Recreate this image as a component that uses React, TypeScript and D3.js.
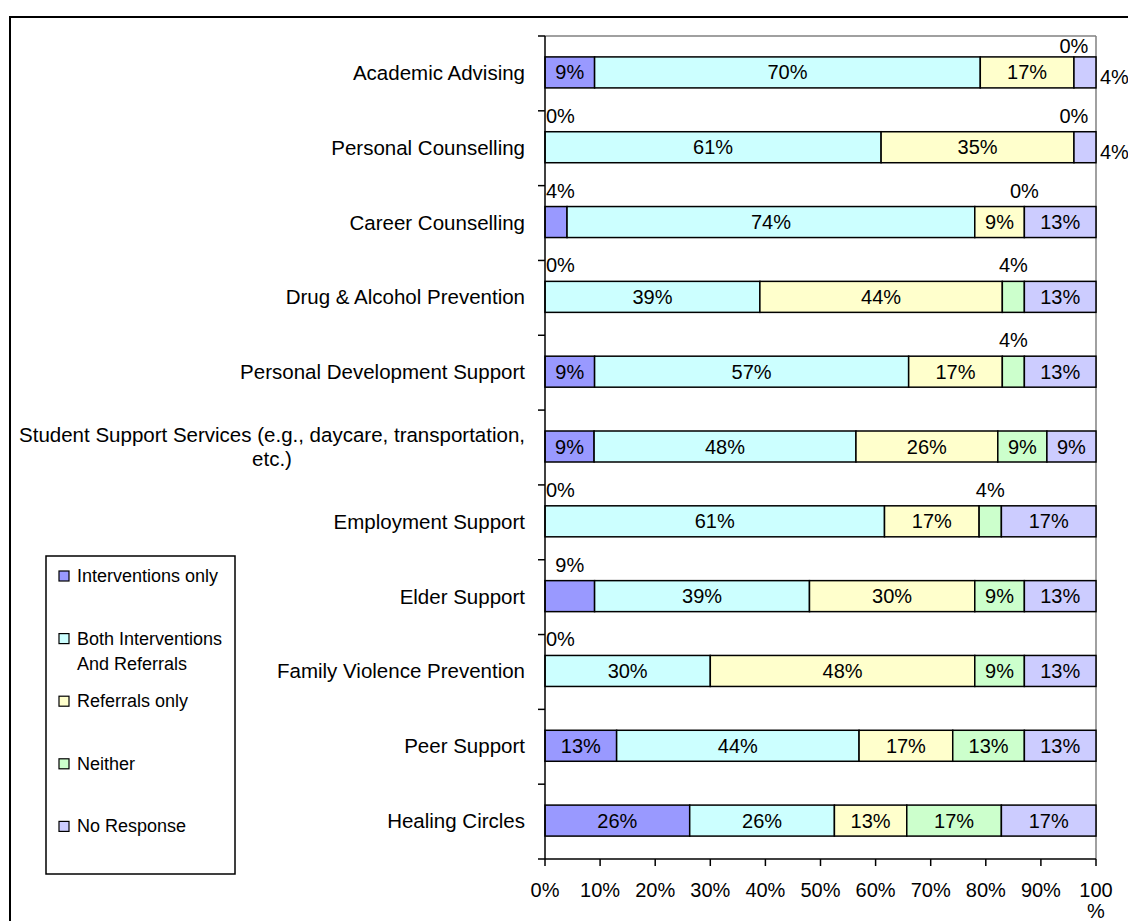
import { useMemo } from 'react';
import * as d3 from 'd3';

// 100% stacked horizontal bars, Excel-style

const WIDTH = 1128;
const HEIGHT = 921;
const PLOT = { left: 545, right: 1096, top: 36, bottom: 859 };
const FONT = '"Liberation Sans", Arial, sans-serif';

const categories = [
    'Academic Advising',
    'Personal Counselling',
    'Career Counselling',
    'Drug & Alcohol Prevention',
    'Personal Development Support',
    'Student Support Services (e.g., daycare, transportation, etc.)',
    'Employment Support',
    'Elder Support',
    'Family Violence Prevention',
    'Peer Support',
    'Healing Circles',
];

const seriesNames = ['Interventions only', 'Both Interventions And Referrals', 'Referrals only', 'Neither', 'No Response'];
const legendLines = [['Interventions only'], ['Both Interventions', 'And Referrals'], ['Referrals only'], ['Neither'], ['No Response']];

const interventionsOnly = [9, 0, 4, 0, 9, 9, 0, 9, 0, 13, 26];
const bothInterventionsAndReferrals = [70, 61, 74, 39, 57, 48, 61, 39, 30, 44, 26];
const referralsOnly = [17, 35, 9, 44, 17, 26, 17, 30, 48, 17, 13];
const neither = [0, 0, 0, 4, 4, 9, 4, 9, 9, 13, 17];
const noResponse = [4, 4, 13, 13, 13, 9, 17, 13, 13, 13, 17];

const colors = ['#9999FF', '#CCFFFF', '#FFFFCC', '#CCFFCC', '#CCCCFF'];
const xTicks = [0, 0.1, 0.2, 0.3, 0.4, 0.5, 0.6, 0.7, 0.8, 0.9, 1];

// labels Excel pushed above the bar although the segment is wide enough
const labelsAbove = ['Elder Support|Interventions only'];

const ctx = document.createElement('canvas').getContext('2d')!;
const measure = (text: string, size: number) => {
    ctx.font = `${size}px "Liberation Sans", Arial, sans-serif`;
    return ctx.measureText(text).width;
};

const wrap = (text: string, size: number, maxWidth: number) => {
    const words = text.split(' ');
    const lines: string[] = [];
    let line = '';
    words.forEach((w) => {
        const test = line ? line + ' ' + w : w;
        if (line && measure(test, size) > maxWidth) {
            lines.push(line);
            line = w;
        } else line = test;
    });
    lines.push(line);
    return lines;
};

export default function App() {
    const table = useMemo(
        () =>
            categories.map((c, i) => ({
                category: c,
                [seriesNames[0]]: interventionsOnly[i],
                [seriesNames[1]]: bothInterventionsAndReferrals[i],
                [seriesNames[2]]: referralsOnly[i],
                [seriesNames[3]]: neither[i],
                [seriesNames[4]]: noResponse[i],
            })),
        []
    );

    const stacked = useMemo(
        () => d3.stack<any>().keys(seriesNames).offset(d3.stackOffsetExpand)(table),
        [table]
    );

    const x = d3.scaleLinear().domain([0, 1]).range([PLOT.left, PLOT.right]);
    const y = d3.scaleBand().domain(categories).range([PLOT.top, PLOT.bottom]);
    const barH = 31;
    const catSize = 20.5;
    const valSize = 20;

    const bandEdges = [...categories.map((c) => y(c)!), PLOT.bottom];

    return (
        <svg width={WIDTH} height={HEIGHT} style={{ position: 'absolute', left: 0, top: 0 }} fontFamily={FONT}>
            <rect width={WIDTH} height={HEIGHT} fill="#fff" />
            <rect x={10} y={17} width={WIDTH + 20} height={HEIGHT + 20} fill="none" stroke="#000" strokeWidth={2} />

            {/* plot area frame (grey top/right) */}
            <line x1={PLOT.left} x2={PLOT.right} y1={PLOT.top} y2={PLOT.top} stroke="#808080" strokeWidth={1.5} />
            <line x1={PLOT.right} x2={PLOT.right} y1={PLOT.top} y2={PLOT.bottom} stroke="#808080" strokeWidth={1.5} />

            {/* bars */}
            {stacked.map((s, si) => (
                <g key={s.key}>
                    {s.map((d, i) => {
                        const cy = y(categories[i])! + y.bandwidth() / 2 - 1;
                        const x0 = x(d[0]);
                        const x1 = x(d[1]);
                        if (x1 - x0 < 0.01) return null;
                        return (
                            <rect
                                key={i}
                                x={x0}
                                width={x1 - x0}
                                y={cy - barH / 2}
                                height={barH}
                                fill={colors[si]}
                                stroke="#000"
                                strokeWidth={1.5}
                            />
                        );
                    })}
                </g>
            ))}

            {/* value labels */}
            {stacked.map((s, si) => (
                <g key={'l' + s.key} fontSize={valSize} fill="#000">
                    {s.map((d, i) => {
                        const value = (d.data as any)[s.key] as number;
                        const label = `${value}%`;
                        const cy = y(categories[i])! + y.bandwidth() / 2 - 1;
                        const x0 = x(d[0]);
                        const x1 = x(d[1]);
                        const cx = (x0 + x1) / 2;
                        const w = measure(label, valSize);
                        const isLast = si === seriesNames.length - 1;
                        const forced = labelsAbove.includes(`${categories[i]}|${s.key}`);
                        if (isLast && x1 - x0 < w + 4) {
                            return (
                                <text key={i} x={PLOT.right + 4} y={cy + 5} dominantBaseline="central">
                                    {label}
                                </text>
                            );
                        }
                        if (forced || x1 - x0 < w + 4) {
                            const left = cx - w / 2 < PLOT.left;
                            return (
                                <text
                                    key={i}
                                    x={left ? PLOT.left + 1 : cx}
                                    y={Math.max(cy - barH / 2 - 16, PLOT.top + 10)}
                                    textAnchor={left ? 'start' : 'middle'}
                                    dominantBaseline="central"
                                >
                                    {label}
                                </text>
                            );
                        }
                        return (
                            <text key={i} x={cx} y={cy} textAnchor="middle" dominantBaseline="central">
                                {label}
                            </text>
                        );
                    })}
                </g>
            ))}

            {/* category axis */}
            <line x1={PLOT.left} x2={PLOT.left} y1={PLOT.top} y2={PLOT.bottom} stroke="#000" strokeWidth={1.5} />
            {bandEdges.map((e, i) => (
                <line key={i} x1={PLOT.left - 7} x2={PLOT.left} y1={e} y2={e} stroke="#000" strokeWidth={1.5} />
            ))}
            {categories.map((c) => {
                const lines = wrap(c, catSize, 520);
                const cy = y(c)! + y.bandwidth() / 2 - 1;
                const right = PLOT.left - 20;
                const widths = lines.map((l) => measure(l, catSize));
                const boxW = Math.max(...widths);
                const lh = 24;
                return (
                    <g key={c} fontSize={catSize}>
                        {lines.map((l, li) => (
                            <text
                                key={li}
                                x={lines.length > 1 ? right - boxW / 2 : right}
                                y={cy + (li - (lines.length - 1) / 2) * lh}
                                textAnchor={lines.length > 1 ? 'middle' : 'end'}
                                dominantBaseline="central"
                            >
                                {l}
                            </text>
                        ))}
                    </g>
                );
            })}

            {/* value axis */}
            <line x1={PLOT.left} x2={PLOT.right} y1={PLOT.bottom} y2={PLOT.bottom} stroke="#000" strokeWidth={1.5} />
            {xTicks.map((t) => {
                const label = d3.format('.0%')(t);
                const wrapped = t === 1;
                return (
                    <g key={t} fontSize={valSize}>
                        <line x1={x(t)} x2={x(t)} y1={PLOT.bottom} y2={PLOT.bottom + 7} stroke="#000" strokeWidth={1.5} />
                        {wrapped ? (
                            <>
                                <text x={x(t)} y={PLOT.bottom + 31} textAnchor="middle" dominantBaseline="central">
                                    {label.replace('%', '')}
                                </text>
                                <text x={x(t)} y={PLOT.bottom + 52} textAnchor="middle" dominantBaseline="central">
                                    %
                                </text>
                            </>
                        ) : (
                            <text x={x(t)} y={PLOT.bottom + 31} textAnchor="middle" dominantBaseline="central">
                                {label}
                            </text>
                        )}
                    </g>
                );
            })}

            {/* legend */}
            <g fontSize={18}>
                <rect x={46} y={556} width={189} height={318} fill="#fff" stroke="#000" strokeWidth={1.5} />
                {legendLines.map((lines, i) => {
                    const cy = 576 + i * 62.6;
                    return (
                        <g key={i}>
                            <rect x={59} y={cy - 5} width={10} height={10} fill={colors[i]} stroke="#000" strokeWidth={1.2} />
                            {lines.map((l, li) => (
                                <text key={li} x={77} y={cy + li * 25} dominantBaseline="central">
                                    {l}
                                </text>
                            ))}
                        </g>
                    );
                })}
            </g>
        </svg>
    );
}
